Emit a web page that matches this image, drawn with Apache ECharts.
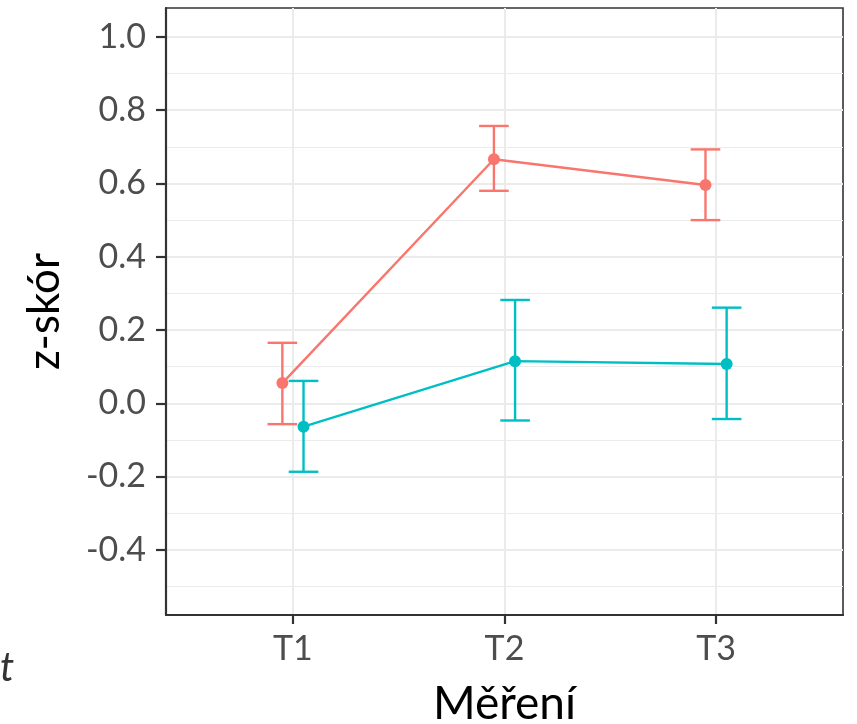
<!DOCTYPE html>
<html><head><meta charset="utf-8">
<script src="https://cdn.jsdelivr.net/npm/echarts@6/dist/echarts.min.js"></script>
<style>html,body{margin:0;padding:0;background:#fff}#c{width:857px;height:724px}</style>
</head><body><div id="c"></div>
<script>
const categories = ['T1', 'T2', 'T3'];
const redMean  = [0.055, 0.666, 0.596];
const redLow   = [-0.057, 0.580, 0.500];
const redHigh  = [0.165, 0.757, 0.693];
const tealMean = [-0.064, 0.115, 0.107];
const tealLow  = [-0.187, -0.047, -0.043];
const tealHigh = [0.061, 0.282, 0.261];
const yMajorTicks = [-0.4, -0.2, 0.0, 0.2, 0.4, 0.6, 0.8, 1.0];
const yMinorTicks = [-0.5, -0.3, -0.1, 0.1, 0.3, 0.5, 0.7, 0.9];
const xTicks = [1, 2, 3];

const RED = '#F8766D', TEAL = '#00BFC4';
const DODGE = 0.05, CAP = 0.14;
const FONT = 'Lato';

function pts(vals, off) { return vals.map((v, i) => [i + 1 + off, v]); }
function bars(lo, hi, off) { return lo.map((v, i) => [i + 1 + off, v, hi[i]]); }

function errRender(color) {
  return function (params, api) {
    const x = api.value(0), lo = api.value(1), hi = api.value(2);
    const a = api.coord([x, lo]), b = api.coord([x, hi]);
    const half = api.size([CAP, 0])[0] / 2;
    const st = { stroke: color, lineWidth: 2.4 };
    return { type: 'group', children: [
      { type: 'line', shape: { x1: a[0], y1: a[1], x2: b[0], y2: b[1] }, style: st },
      { type: 'line', shape: { x1: a[0] - half, y1: a[1], x2: a[0] + half, y2: a[1] }, style: st },
      { type: 'line', shape: { x1: b[0] - half, y1: b[1], x2: b[0] + half, y2: b[1] }, style: st }
    ]};
  };
}

const gridLine = (w) => ({ color: '#ebebeb', width: w, type: 'solid' });
const markData = []
  .concat(yMinorTicks.map(v => ({ yAxis: v, lineStyle: gridLine(1.2) })))
  .concat(yMajorTicks.map(v => ({ yAxis: v, lineStyle: gridLine(2) })))
  .concat(xTicks.map(v => ({ xAxis: v, lineStyle: gridLine(2) })));

const chart = echarts.init(document.getElementById('c'), null, { renderer: 'canvas' });
chart.setOption({
  animation: false,
  backgroundColor: '#ffffff',
  grid: { left: 166, right: 14, top: 8, bottom: 109, containLabel: false, outerBoundsMode: 'none',
    show: true, borderColor: '#333333', borderWidth: 1.6, backgroundColor: 'transparent' },
  xAxis: {
    type: 'value', min: 0.4, max: 3.6,
    name: 'Měření', nameLocation: 'middle', nameGap: 66,
    nameTextStyle: { fontFamily: FONT, fontSize: 46, color: '#000000' },
    axisLine: { show: true, onZero: false, lineStyle: { color: '#333333', width: 2.2 } },
    axisTick: { show: true, customValues: xTicks, length: 9, lineStyle: { color: '#333333', width: 2.2 } },
    axisLabel: { customValues: xTicks, margin: 17, fontFamily: FONT, fontSize: 34, color: '#4d4d4d',
      formatter: v => categories[Math.round(v) - 1] },
    splitLine: { show: false }
  },
  yAxis: {
    type: 'value', min: -0.578, max: 1.079,
    name: 'z-skór', nameLocation: 'middle', nameGap: 99, nameRotate: 90,
    nameTextStyle: { fontFamily: FONT, fontSize: 44, color: '#000000' },
    axisLine: { show: true, onZero: false, lineStyle: { color: '#333333', width: 2.2 } },
    axisTick: { show: true, customValues: yMajorTicks, length: 10, lineStyle: { color: '#333333', width: 2.2 } },
    axisLabel: { customValues: yMajorTicks, margin: 20, fontFamily: FONT, fontSize: 34, color: '#4d4d4d',
      formatter: v => v.toFixed(1) },
    splitLine: { show: false }
  },
  graphic: [
    { type: 'text', left: 0, top: 648, style: { text: 't', fontFamily: FONT, fontStyle: 'italic', fontSize: 40, fill: '#333333' } }
  ],
  series: [
    { type: 'line', data: [], silent: true, z: 0,
      markLine: { silent: true, z: 0, symbol: 'none', label: { show: false }, data: markData } },
    { type: 'custom', name: 'red-err', renderItem: errRender(RED), data: bars(redLow, redHigh, -DODGE), z: 3, silent: true },
    { type: 'custom', name: 'teal-err', renderItem: errRender(TEAL), data: bars(tealLow, tealHigh, DODGE), z: 3, silent: true },
    { type: 'line', name: 'red', data: pts(redMean, -DODGE), symbol: 'circle', symbolSize: 12,
      itemStyle: { color: RED }, lineStyle: { color: RED, width: 2.4 }, z: 4 },
    { type: 'line', name: 'teal', data: pts(tealMean, DODGE), symbol: 'circle', symbolSize: 12,
      itemStyle: { color: TEAL }, lineStyle: { color: TEAL, width: 2.4 }, z: 4 }
  ]
});
</script>
</body></html>
